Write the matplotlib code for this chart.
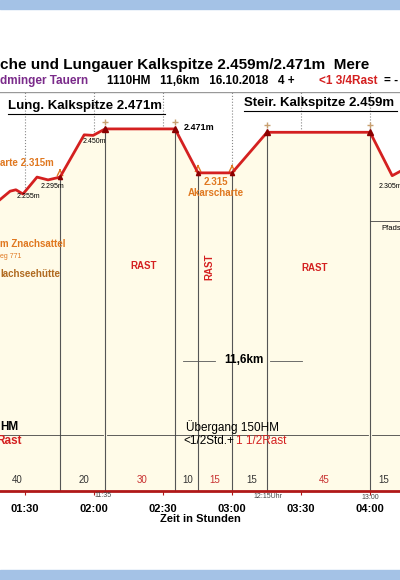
import matplotlib.pyplot as plt
from matplotlib.patches import Rectangle

# profile: time in minutes since start, elevation in m
prof_t = [79.1, 83.5, 86.0, 89.1, 95.2, 100.0, 105.2, 115.7, 119.6, 124.8, 155.2, 165.2, 180.0, 195.2, 240.0, 249.6, 253.0]
prof_h = [2220, 2250, 2255, 2240, 2300, 2290, 2300, 2450, 2448, 2471, 2471, 2315, 2315, 2459, 2459, 2305, 2320]

seg_bounds = [105.2, 124.8, 155.2, 165.2, 180.0, 195.2, 240.0]
seg_labels = ["40", "20", "30", "10", "15", "15", "45", "15"]
seg_label_t = [86.5, 115.7, 140.9, 160.9, 172.6, 188.7, 220.0, 246.0]
seg_rest = [False, False, True, False, True, False, True, False]

tick_t = [90, 120, 150, 180, 210, 240]
tick_lbl = ["01:30", "02:00", "02:30", "03:00", "03:30", "04:00"]

peaks_t = [124.8, 155.2, 195.2, 240.0]
peaks_h = [2471, 2471, 2459, 2459]
saddle_t = [105.2, 165.2, 180.0]
saddle_h = [2300, 2315, 2315]

W, H = 400, 580
fig = plt.figure(figsize=(W / 100, H / 100), dpi=100)
plt.rcParams['font.family'] = ['Arial', 'Liberation Sans', 'DejaVu Sans']


def px(x, y):
    return x / W, 1 - y / H


def t(x, y, s, **kw):
    fig.text(*px(x, y), s, **kw)


def hline(x0, x1, y, **kw):
    fig.add_artist(plt.Line2D([x0 / W, x1 / W], [1 - y / H] * 2, **kw))


blue = "#a4c2e6"
fig.patches.append(Rectangle((0, 1 - 9 / H), 1, 9 / H, transform=fig.transFigure, color=blue))
fig.patches.append(Rectangle((0, 0), 1, 10 / H, transform=fig.transFigure, color=blue))

ax = fig.add_axes([0, (H - 491) / H, 1, (491 - 92) / H])
ax.set_xlim(79.1, 253)
ax.set_ylim(1186, 2602)
for s in ["left", "right", "top"]:
    ax.spines[s].set_visible(False)
ax.spines["bottom"].set_color("#b01818")
ax.spines["bottom"].set_linewidth(2)
ax.axhline(2602, color="#999999", lw=1)
ax.set_yticks([])
ax.set_xticks(tick_t)
ax.set_xticklabels(tick_lbl, fontsize=8, fontweight="bold")
ax.tick_params(axis="x", length=3, color="#b01818", pad=6)
ax.set_xlabel("Zeit in Stunden", fontsize=8, fontweight="bold", labelpad=0)
ax.set_axisbelow(True)
ax.grid(axis="x", ls=":", color="#888888", lw=0.8)

ax.fill_between(prof_t, prof_h, 1186, color="#fffbe8", zorder=1)
ax.plot(prof_t, prof_h, color="#d42020", lw=2, zorder=4)
for bt in seg_bounds:
    h = prof_h[prof_t.index(bt)]
    ax.plot([bt, bt], [1186, h], color="#555555", lw=0.8, zorder=2)
ax.plot(peaks_t, peaks_h, "^", color="#8b0000", ms=4, zorder=5)
ax.plot(peaks_t, [h + 26 for h in peaks_h], "+", color="#c8a070", ms=5, zorder=5)
ax.plot(saddle_t, saddle_h, "^", color="#8b0000", ms=3, zorder=5)
for st, sh in zip(saddle_t, saddle_h):
    ax.annotate("", xy=(st, sh + 40), xytext=(st, sh + 15),
                arrowprops=dict(arrowstyle="->", color="#e07820", lw=1))

for lt, lb, r in zip(seg_label_t, seg_labels, seg_rest):
    ax.text(lt, 1215, lb, fontsize=7, ha="center", color="#c83030" if r else "#333333")

# titles
t(0, 65, "che und Lungauer Kalkspitze 2.459m/2.471m  Mere", fontsize=11, fontweight="bold", va="center")
t(0, 81, "dminger Tauern", fontsize=8.5, fontweight="bold", color="#7a2a8a", va="center")
t(107, 81, "1110HM   11,6km   16.10.2018   4 +", fontsize=8.5, fontweight="bold", va="center")
t(319, 81, "<1 3/4Rast", fontsize=8.5, fontweight="bold", color="#d42020", va="center")
t(384, 81, "= -", fontsize=8.5, fontweight="bold", va="center")
t(8, 106, "Lung. Kalkspitze 2.471m", fontsize=9.5, fontweight="bold", va="center")
t(244, 103, "Steir. Kalkspitze 2.459m", fontsize=9.5, fontweight="bold", va="center")
hline(8, 165, 114, color="black", lw=0.8)
hline(244, 397, 111, color="black", lw=0.8)

# small labels
t(184, 128, "2.471m", fontsize=6.5, fontweight="bold", va="center")
t(83, 142, "2.450m", fontsize=5, va="center")
t(41, 186, "2.295m", fontsize=5, va="center")
t(17, 196, "2.255m", fontsize=5, va="center")
t(379, 186, "2.305m", fontsize=5, va="center")
t(0, 163, "arte 2.315m", fontsize=7, fontweight="bold", color="#e07820", va="center")
t(216, 182, "2.315", fontsize=7, fontweight="bold", color="#e07820", va="center", ha="center")
t(216, 193, "Akarscharte", fontsize=7, fontweight="bold", color="#e07820", va="center", ha="center")
t(0, 244, "m Znachsattel", fontsize=7, fontweight="bold", color="#e07820", va="center")
t(0, 256, "eg 771", fontsize=5, color="#e07820", va="center")
t(0, 274, "lachseehütte", fontsize=7, fontweight="bold", color="#b06a20", va="center")
t(381, 228, "Pfads", fontsize=5.5, va="center")
hline(370, 400, 221, color="#444444", lw=0.6)

t(144, 266, "RAST", fontsize=7, fontweight="bold", color="#d42020", ha="center", va="center")
t(209, 267, "RAST", fontsize=7, fontweight="bold", color="#d42020", ha="center", va="center", rotation=90)
t(315, 268, "RAST", fontsize=7, fontweight="bold", color="#d42020", ha="center", va="center")

t(244, 360, "11,6km", fontsize=8.5, fontweight="bold", ha="center", va="center")
hline(183, 215, 361, color="#555555", lw=0.6)
hline(270, 302, 361, color="#555555", lw=0.6)

t(0, 427, "HM", fontsize=8.5, fontweight="bold", va="center")
t(-4, 441, "Rast", fontsize=8.5, fontweight="bold", color="#d42020", va="center")
t(233, 427, "Übergang 150HM", fontsize=8.5, ha="center", va="center")
t(183, 441, "<1/2Std.+", fontsize=8.5, va="center")
t(236, 441, "1 1/2Rast", fontsize=8.5, color="#d42020", va="center")
for a, b in [(0, 103), (107, 368), (372, 400)]:
    hline(a, b, 435, color="#444444", lw=0.6)

t(103, 497, "11:35", fontsize=5, ha="center", color="#444444")
t(268, 498, "12:15Uhr", fontsize=5, ha="center", color="#444444")
t(370, 499, "13:00", fontsize=5, ha="center", color="#444444")

fig.savefig("out.png", dpi=100)
